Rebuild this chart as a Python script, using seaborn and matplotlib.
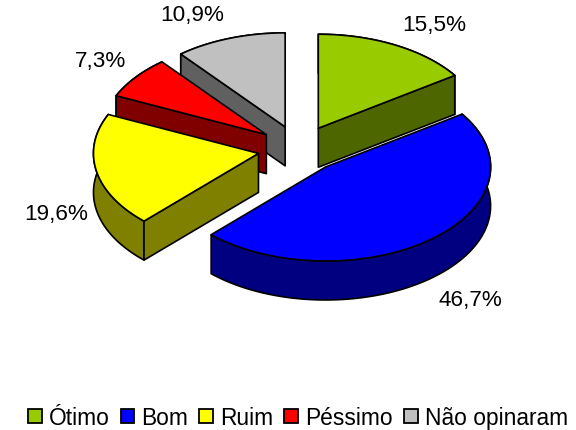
"""Exploded 3D-style pie chart of the opinion survey."""
import numpy as np
import matplotlib
matplotlib.use('Agg')
import matplotlib.pyplot as plt
from matplotlib.patches import Patch
import seaborn as sns

categories = ['Ótimo', 'Bom', 'Ruim', 'Péssimo', 'Não opinaram']
shares = [15.5, 46.7, 19.6, 7.3, 10.9]
labels = ['15,5%', '46,7%', '19,6%', '7,3%', '10,9%']
top_colors = ['#99CC00', '#0000FF', '#FFFF00', '#FF0000', '#C0C0C0']
side_colors = ['#4D6600', '#000080', '#808000', '#800000', '#606060']

# layout, in pixels of the picture
CX, CY = 299, 150
RX, RY = 165, 94
DEPTH = 39
EXPLODE = 0.25
LABEL_POS = [(434, 25), (470, 301), (56, 215), (101, 61), (192, 16)]

sns.set_theme(style='white')
plt.rcParams['font.family'] = ['Liberation Sans', 'DejaVu Sans']

fig, ax = plt.subplots(figsize=(5.76, 4.31), dpi=100)
ax.set_position([0, 0, 1, 1])
ax.set_xlim(0, 576)
ax.set_ylim(431, 0)
ax.axis('off')

def rim(ang):
    return RX * np.sin(ang), -RY * np.cos(ang)

def draw_slice(start, end, top, side):
    mid = (start + end) / 2
    dx, dy = rim(mid)
    ax0, ay0 = CX + EXPLODE * dx, CY + EXPLODE * dy
    t = np.linspace(start, end, 120)
    rx, ry = rim(t)
    x, y = ax0 + rx, ay0 + ry
    style = dict(edgecolor='black', linewidth=1.2, joinstyle='round')

    def wall(i):
        ax.fill([ax0, x[i], x[i], ax0], [ay0, y[i], y[i] + DEPTH, ay0 + DEPTH],
                facecolor=side, **style)

    # a radial wall shows only if going down from its edge leaves the slice
    shown = [i for i in (0, -1)
             if rx[i] * (rx[i] * dy - ry[i] * dx) < -1e-6]
    ax.fill(np.r_[x, x[::-1]], np.r_[y, y[::-1] + DEPTH], facecolor=side, **style)
    for i in shown:
        wall(i)
    ax.fill(np.r_[ax0, x], np.r_[ay0, y], facecolor=top, **style)

edges = np.r_[0, np.cumsum(shares)] / sum(shares) * 2 * np.pi
# back slices first
mids = (edges[:-1] + edges[1:]) / 2
order = np.argsort(EXPLODE * rim(mids)[1])
for i in order:
    draw_slice(edges[i], edges[i + 1], top_colors[i], side_colors[i])

for lab, (lx, ly) in zip(labels, LABEL_POS):
    ax.text(lx, ly, lab, fontsize=16.2, color='black', ha='center', va='center')

handles = [Patch(facecolor=c, edgecolor='black', linewidth=1.3) for c in top_colors]
ax.legend(handles, categories, ncol=5, loc='center', bbox_to_anchor=(0.517, 0.029),
          frameon=False, fontsize=16.4, handlelength=0.6, handleheight=0.55,
          handletextpad=0.3, columnspacing=0.5, borderpad=0, borderaxespad=0,
          labelcolor='black')

fig.savefig('out.png', dpi=100)
